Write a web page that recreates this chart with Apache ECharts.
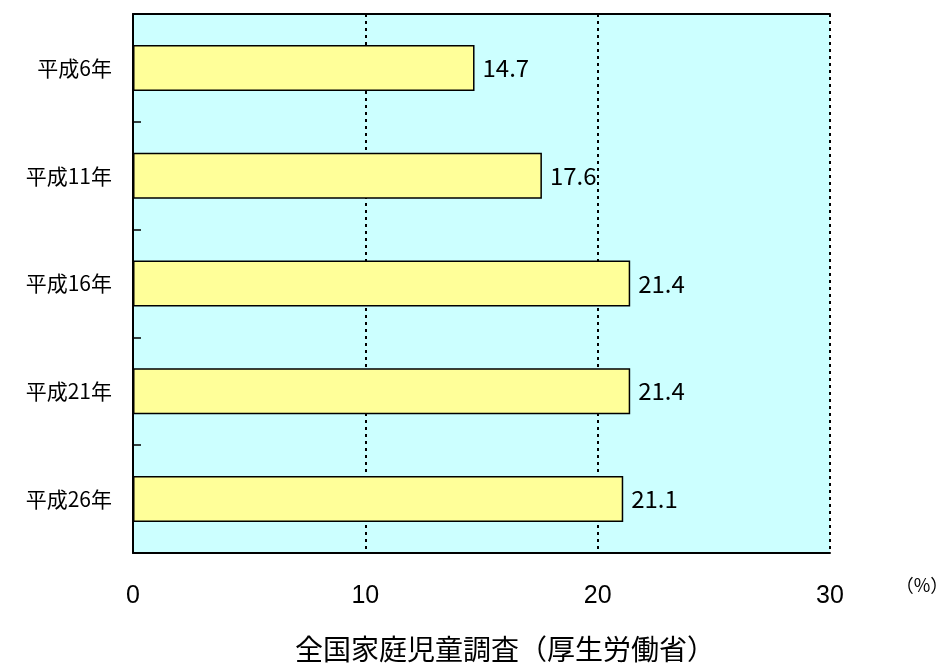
<!DOCTYPE html>
<html>
<head>
<meta charset="utf-8">
<script src="https://cdn.jsdelivr.net/npm/echarts@6/dist/echarts.min.js"></script>
<style>html,body{margin:0;padding:0;background:#fff}#c{width:940px;height:668px}</style>
</head>
<body>
<div id="c"></div>
<script>
const categories = ['平成6年', '平成11年', '平成16年', '平成21年', '平成26年'];
const values = [14.7, 17.6, 21.4, 21.4, 21.1];
const xTicks = [0, 10, 20, 30];
const sourceText = '全国家庭児童調査（厚生労働省）';
const unitText = '（%）';

const FONT = '"Noto Sans CJK JP", "Noto Sans", sans-serif';
const NUMFONT = '"Liberation Sans", Arial, sans-serif';
const chart = echarts.init(document.getElementById('c'), null, {renderer: 'canvas'});
chart.setOption({
  animation: false,
  backgroundColor: '#ffffff',
  grid: {left: 133, right: 110, top: 14, bottom: 115, show: true, backgroundColor: '#CCFFFF', borderWidth: 0},
  title: [
    {text: sourceText, left: 500, top: 630, textAlign: 'center',
     textStyle: {fontFamily: FONT, fontSize: 28, fontWeight: 'normal', color: '#000'}},
    {text: unitText, left: 917, top: 571, textAlign: 'center',
     textStyle: {fontFamily: FONT, fontSize: 18, fontWeight: 'normal', color: '#000'}}
  ],
  xAxis: [{
    type: 'value', min: xTicks[0], max: xTicks[xTicks.length - 1], interval: 10,
    axisLine: {show: true, onZero: false, lineStyle: {color: '#000', width: 2}},
    axisTick: {show: false},
    axisLabel: {fontFamily: NUMFONT, fontSize: 25, color: '#000', margin: 31},
    splitLine: {show: true, lineStyle: {color: '#000', width: 2, type: [3, 4]}}
  }, {
    type: 'value', position: 'top', min: xTicks[0], max: xTicks[xTicks.length - 1], interval: 10,
    axisLine: {show: true, onZero: false, lineStyle: {color: '#000', width: 2}},
    axisTick: {show: false}, axisLabel: {show: false}, splitLine: {show: false}
  }],
  yAxis: {
    type: 'category', data: categories, inverse: true,
    axisLine: {show: true, lineStyle: {color: '#000', width: 2}},
    axisTick: {show: true, inside: true, length: 8, lineStyle: {color: '#000', width: 1.5}},
    axisLabel: {fontFamily: FONT, fontSize: 21, color: '#000', margin: 21}
  },
  series: [{
    type: 'bar', data: values, barWidth: 46, xAxisIndex: 0,
    itemStyle: {color: '#FFFF99', borderColor: '#000', borderWidth: 1.5},
    label: {show: true, position: 'right', distance: 8, fontFamily: FONT, fontSize: 24, color: '#000',
            formatter: p => p.value.toFixed(1)}
  }]
});
</script>
</body>
</html>
